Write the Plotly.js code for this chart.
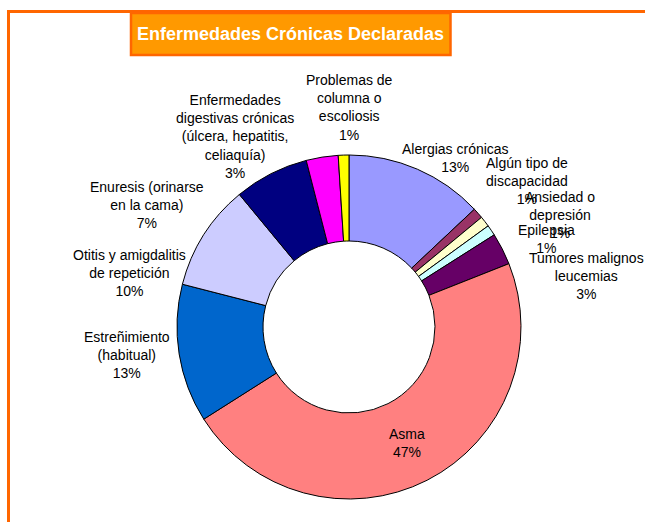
<!DOCTYPE html>
<html>
<head>
<meta charset="utf-8">
<script src="https://cdn.plot.ly/plotly-3.0.1.min.js"></script>
<style>html,body{margin:0;padding:0;background:#fff;}#chart{width:645px;height:522px;}</style>
</head>
<body>
<div id="chart"></div>
<script>
// Data
const categories = [
  "Alergias crónicas",
  "Algún tipo de discapacidad",
  "Ansiedad o depresión",
  "Epilepsia",
  "Tumores malignos leucemias",
  "Asma",
  "Estreñimiento (habitual)",
  "Otitis y amigdalitis de repetición",
  "Enuresis (orinarse en la cama)",
  "Enfermedades digestivas crónicas (úlcera, hepatitis, celiaquía)",
  "Problemas de columna o escoliosis"
];
const values = [13, 1, 1, 1, 3, 47, 13, 10, 7, 3, 1];
const labelLines = [
  ["Alergias crónicas"],
  ["Algún tipo de", "discapacidad"],
  ["Ansiedad o", "depresión"],
  ["Epilepsia"],
  ["Tumores malignos", "leucemias"],
  ["Asma"],
  ["Estreñimiento", "(habitual)"],
  ["Otitis y amigdalitis", "de repetición"],
  ["Enuresis (orinarse", "en la cama)"],
  ["Enfermedades", "digestivas crónicas", "(úlcera, hepatitis,", "celiaquía)"],
  ["Problemas de", "columna o", "escoliosis"]
];
const colors = ["#9999FF","#993366","#FFFFCC","#CCFFFF","#660066","#FF8080","#0066CC","#CCCCFF","#000080","#FF00FF","#FFFF00"];

// Label placement (pixel centers) - layout only
const labelPos = [
  [455,157.5],[527,181.5],[560,215],[546,239],[586,276],
  [407,442.5],[127,354.5],[129,272.5],[147,204.5],[235,136],[349,108]
];

const W = 645, H = 522;
const total = values.reduce((a,b)=>a+b,0);
const px = x => x / W;
const py = y => 1 - y / H;

const cx = 349, cy = 327, R = 172;

const annotations = categories.map((c,i) => ({
  text: labelLines[i].join("<br>") + "<br>" + Math.round(values[i]/total*100) + "%",
  x: px(labelPos[i][0]), y: py(labelPos[i][1]),
  xref: "paper", yref: "paper",
  xanchor: "center", yanchor: "middle",
  showarrow: false,
  font: {family: "Liberation Sans, Arial, sans-serif", size: 14, color: "#000"},
  align: "center"
}));

const data = [{
  type: "pie",
  labels: categories,
  values: values,
  sort: false,
  direction: "clockwise",
  rotation: 0,
  hole: 0.5,
  textinfo: "none",
  hoverinfo: "label+percent",
  marker: {colors: colors, line: {color: "#000", width: 1}},
  domain: {x: [px(cx - R), px(cx + R)], y: [py(cy + R), py(cy - R)]},
  showlegend: false
}];

const layout = {
  width: W, height: H,
  margin: {l: 0, r: 0, t: 0, b: 0},
  paper_bgcolor: "#fff",
  showlegend: false,
  title: {
    text: "<b>Enfermedades Crónicas Declaradas</b>",
    x: px(290.5), y: py(34), xanchor: "center", yanchor: "middle",
    xref: "paper", yref: "paper",
    font: {family: "Liberation Sans, Arial, sans-serif", size: 18, color: "#fff"}
  },
  shapes: [
    {type: "line", xref: "paper", yref: "paper", x0: px(7), x1: px(650), y0: py(11.5), y1: py(11.5), line: {color: "#FF6600", width: 3}},
    {type: "line", xref: "paper", yref: "paper", x0: px(8.5), x1: px(8.5), y0: py(10), y1: py(530), line: {color: "#FF6600", width: 3}},
    {type: "rect", xref: "paper", yref: "paper", x0: px(131), x1: px(450.5), y0: py(55), y1: py(13), fillcolor: "#FF9900", line: {color: "#FF6600", width: 2.5}}
  ],
  annotations: annotations
};

Plotly.newPlot("chart", data, layout, {staticPlot: true});
</script>
</body>
</html>
